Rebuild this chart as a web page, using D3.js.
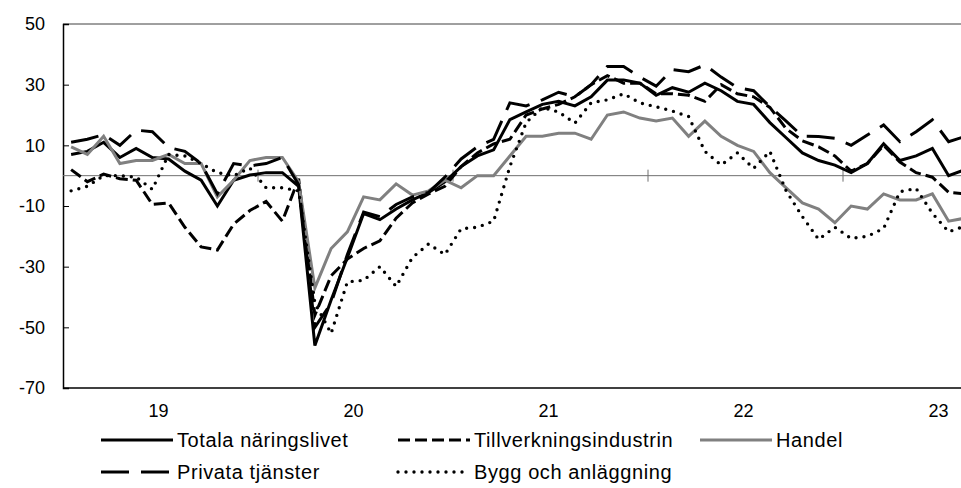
<!DOCTYPE html>
<html>
<head>
<meta charset="utf-8">
<script src="https://cdn.jsdelivr.net/npm/d3@7"></script>
<style>
  body { margin: 0; background: #fff; }
  text { font-family: "Liberation Sans", Arial, sans-serif; fill: #000; }
</style>
</head>
<body>
<div id="chart"></div>
<script>
// months Jan 2019 .. Aug 2023 (last one runs off the right edge)
const months = d3.timeMonth.range(new Date(2019, 0, 1), new Date(2023, 8, 1));
const yearLabels = ["19", "20", "21", "22", "23"];
const yTicks = [-70, -50, -30, -10, 10, 30, 50];

const totala = [7, 8, 11, 6, 9, 6, 5.5, 1.5, -1.5, -10, -1.5, 0.2, 1, 1, -3.5, -56, -41, -27, -12.5, -14.5, -11, -8, -5.5, -2,
  3, 6.5, 8.5, 18.5, 21, 23.5, 24.5, 23, 26, 31.5, 31.5, 30.5, 26.5, 29, 27.5, 30.5, 28, 24.5, 23.5, 17.5, 12.5, 7.5, 5, 3.5,
  1, 4, 10.5, 5, 6.5, 9, 0, 2];
const tillverkning = [2, -2, 0.5, -1, -1.5, -9.5, -9, -17, -23.5, -24.5, -16, -11.5, -8.5, -15, -1, -46, -33, -27.5, -24, -21.5, -14, -9, -6, -3.5,
  3, 7.5, 10.5, 12, 20, 22, 23.5, 26, 30, 33, 30.5, 30.5, 27, 27, 26.5, 24.5, 30, 27, 26, 22.5, 15.5, 11.5, 9.5, 6.5,
  1.5, 4, 10, 4.5, 1, -0.5, -5.5, -6];
const handel = [9.5, 7, 13, 4, 5, 5, 7, 4, 4, -7, -1.5, 5, 6, 6, -2, -37, -24, -18.5, -7, -8, -2.7, -6.4, -5, -1.5,
  -4, 0, 0, 6.5, 13, 13, 14, 14, 12, 20, 21, 19, 18, 19, 13, 18, 13, 10, 8, 1, -4, -9, -11, -15.5,
  -10, -11, -6, -8, -8, -6, -15, -14];
const privata = [11, 12, 13.5, 10, 15, 14.5, 9.3, 8, 4, -6, 4, 3.2, 4, 6, -3, -50, -42, -26, -12, -13.5, -9.5, -7, -5.5, -0.5,
  5.5, 9.5, 12, 24, 23, 25, 27.5, 26, 30, 36, 36, 32.5, 29.5, 35, 34.3, 36.5, 32.5, 29, 28, 22.7, 18, 13, 12.9, 12.3,
  10, 13.4, 16.7, 11.2, 14.5, 18.4, 11.2, 12.9];
const bygg = [-5, -3.5, 0, 0, -0.5, -4.5, 7, 6.5, 4, 1, 0, 2.5, -4, -4, -5, -42, -52, -35, -34.5, -30, -36.5, -27, -22.5, -26,
  -17.5, -17, -15, 3, 17.5, 22.5, 21, 17.3, 24, 25, 27, 24, 22.7, 21.3, 19.5, 8, 3.5, 7.5, 2.4, 8, -5, -13.5, -21, -17,
  -20.7, -20, -17.4, -5.3, -4.2, -12.4, -18.5, -16.6];

const series = [
  { name: "Totala näringslivet", values: totala, color: "#000", dash: null, cap: "butt", width: 3 },
  { name: "Tillverkningsindustrin", values: tillverkning, color: "#000", dash: "12,5", cap: "butt", width: 3 },
  { name: "Handel", values: handel, color: "#808080", dash: null, cap: "butt", width: 3 },
  { name: "Privata tjänster", values: privata, color: "#000", dash: "28,12", cap: "butt", width: 3 },
  { name: "Bygg och anläggning", values: bygg, color: "#000", dash: "0,8", cap: "round", width: 3.4 },
];

const W = 961, H = 488;
const plotLeft = 63, plotTop = 24, plotBottom = 388;
const step = 16.25;

const svg = d3.select("#chart").append("svg")
  .attr("width", W).attr("height", H);

const x = d3.scaleBand()
  .domain(months)
  .range([plotLeft, plotLeft + months.length * step])
  .padding(0);
const cx = (d) => x(d) + x.bandwidth() / 2;

const y = d3.scaleLinear().domain([-70, 50]).range([plotBottom, plotTop]);

svg.append("clipPath").attr("id", "plot-clip")
  .append("rect").attr("x", plotLeft).attr("y", 0).attr("width", W - plotLeft).attr("height", H);

// frame
svg.append("line").attr("x1", plotLeft).attr("x2", W).attr("y1", plotTop).attr("y2", plotTop)
  .attr("stroke", "#404040").attr("stroke-width", 1);
svg.append("line").attr("x1", plotLeft).attr("x2", W).attr("y1", plotBottom).attr("y2", plotBottom)
  .attr("stroke", "#000").attr("stroke-width", 1.5);

// y axis (plain hyphen minus like the original)
const yAxis = svg.append("g").attr("transform", `translate(${plotLeft},0)`)
  .call(d3.axisLeft(y).tickValues(yTicks).tickSize(-6).tickPadding(18).tickFormat((d) => String(d)));
yAxis.select(".domain").attr("stroke", "#000").attr("stroke-width", 1.5);
yAxis.selectAll(".tick line").attr("stroke", "#000");
yAxis.selectAll("text").style("font-size", "18px").attr("fill", "#000");

// zero line with year ticks
svg.append("line").attr("x1", plotLeft).attr("x2", W).attr("y1", y(0)).attr("y2", y(0))
  .attr("stroke", "#707070").attr("stroke-width", 1);
const yearStarts = months.filter((m) => m.getMonth() === 0 && m.getFullYear() > 2019);
svg.selectAll(".year-tick").data(yearStarts).enter().append("line")
  .attr("class", "year-tick")
  .attr("x1", (d) => x(d)).attr("x2", (d) => x(d))
  .attr("y1", y(0) - 6).attr("y2", y(0) + 6)
  .attr("stroke", "#707070").attr("stroke-width", 1);

// year labels, centred on each year
svg.selectAll(".year-label").data(yearLabels).enter().append("text")
  .attr("class", "year-label")
  .attr("x", (d, i) => x(months[i * 12]) + 6 * step - 2)
  .attr("y", 417)
  .attr("text-anchor", "middle")
  .style("font-size", "18px")
  .text((d) => d);

// lines
const line = d3.line().x((d, i) => cx(months[i])).y((d) => y(d));
const plot = svg.append("g").attr("clip-path", "url(#plot-clip)");
series.forEach((s) => {
  plot.append("path")
    .datum(s.values)
    .attr("fill", "none")
    .attr("stroke", s.color)
    .attr("stroke-width", s.width)
    .attr("stroke-dasharray", s.dash)
    .attr("stroke-linecap", s.cap)
    .attr("stroke-linejoin", "miter")
    .attr("d", line);
});

// legend
const legendPos = [
  { x: 101, y: 440 }, { x: 398, y: 440 }, { x: 700, y: 440 },
  { x: 101, y: 472 }, { x: 398, y: 472 },
];
const legend = svg.selectAll(".legend").data(series).enter().append("g")
  .attr("class", "legend")
  .attr("transform", (d, i) => `translate(${legendPos[i].x},${legendPos[i].y})`);
legend.append("line")
  .attr("x1", 0).attr("x2", 72).attr("y1", 0).attr("y2", 0)
  .attr("stroke", (d) => d.color)
  .attr("stroke-width", (d) => d.width)
  .attr("stroke-dasharray", (d) => d.dash)
  .attr("stroke-linecap", (d) => d.cap);
legend.append("text")
  .attr("x", 76).attr("y", 7)
  .style("font-size", "20px")
  .style("letter-spacing", "0.6px")
  .text((d) => d.name);
</script>
</body>
</html>
